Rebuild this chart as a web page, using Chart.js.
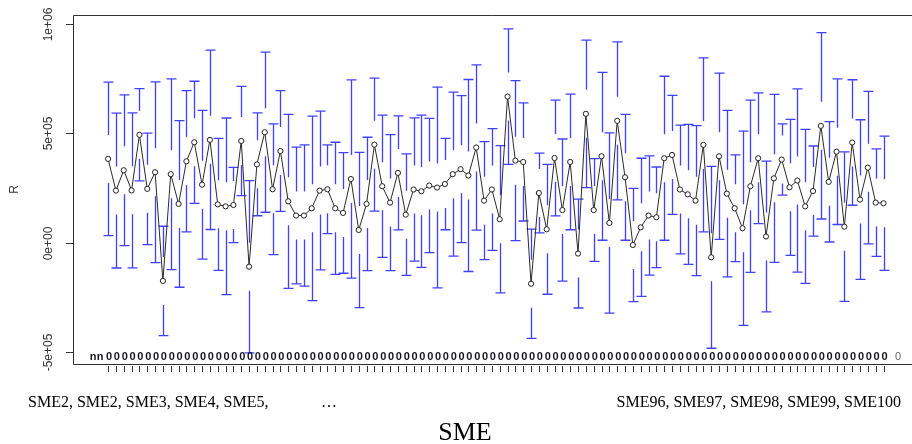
<!DOCTYPE html>
<html>
<head>
<meta charset="utf-8">
<script src="https://cdn.jsdelivr.net/npm/chart.js@4"></script>
<style>
  html, body { margin: 0; padding: 0; background: #fff; overflow: hidden; }
  #wrap { width: 912px; height: 444px; }
</style>
</head>
<body>
<div id="wrap"><canvas id="smeChart" width="912" height="444"></canvas></div>
<script>
// SME index 1..100, mean R and half width of the interval
const smeIndex = Array.from({ length: 100 }, (_, i) => i + 1);

const meanR = [383000, 238000, 331000, 239000, 493000, 246000, 322000, -175000, 313000, 177000,
    372000, 459000, 265000, 470000, 175000, 166000, 172000, 465000, -110000, 358000,
    505000, 244000, 419000, 189000, 124000, 124000, 157000, 238000, 244000, 157000,
    136000, 291000, 58000, 177000, 448000, 258000, 183000, 319000, 128000, 243000,
    235000, 261000, 252000, 268000, 313000, 336000, 307000, 435000, 192000, 243000,
    107000, 668000, 375000, 369000, -188000, 227000, 61000, 387000, 149000, 369000,
    -50000, 589000, 149000, 395000, 90000, 557000, 299000, -11000, 70000, 124000,
    116000, 386000, 401000, 243000, 221000, 192000, 447000, -67000, 395000, 224000,
    157000, 66000, 258000, 386000, 28000, 294000, 380000, 253000, 284000, 166000,
    236000, 534000, 278000, 416000, 73000, 458000, 197000, 343000, 183000, 180000];

const errR = [351000, 354000, 345000, 354000, 211000, 255000, 413000, 250000, 436000, 381000,
    323000, 279000, 340000, 410000, 302000, 404000, 172000, 250000, 394000, 235000,
    366000, 299000, 276000, 398000, 313000, 323000, 422000, 363000, 203000, 302000,
    276000, 453000, 355000, 305000, 304000, 325000, 311000, 261000, 278000, 328000,
    348000, 307000, 459000, 209000, 375000, 336000, 439000, 378000, 270000, 278000,
    337000, 310000, 366000, 270000, 250000, 182000, 297000, 265000, 325000, 310000,
    249000, 337000, 235000, 384000, 412000, 361000, 288000, 259000, 316000, 273000,
    230000, 375000, 272000, 294000, 320000, 343000, 398000, 416000, 380000, 381000,
    244000, 444000, 394000, 299000, 345000, 384000, 163000, 311000, 419000, 352000,
    206000, 426000, 275000, 333000, 342000, 287000, 365000, 349000, 246000, 307000];

const yTicks = [-500000, 0, 500000, 1000000];
const yTickLabels = ['-5e+05', '0e+00', '5e+05', '1e+06'];

const leftNote = 'SME2, SME2, SME3, SME4, SME5,';
const rightNote = 'SME96, SME97, SME98, SME99, SME100';

const SANS = '"Liberation Sans", Arial, sans-serif';
const SERIF = '"Liberation Serif", "Times New Roman", serif';

// gplots-like error bars, with a gap round each point
const errorBars = {
    id: 'errorBars',
    beforeDatasetsDraw(chart) {
        const { ctx, scales: { x, y } } = chart;
        const gap = 24, cap = 5;
        ctx.save();
        ctx.strokeStyle = 'rgba(30,30,255,0.85)';
        ctx.lineWidth = 1.3;
        smeIndex.forEach((v, i) => {
            const px = Math.round(x.getPixelForValue(v)) + 0.5;
            const pm = y.getPixelForValue(meanR[i]);
            const pu = y.getPixelForValue(meanR[i] + errR[i]);
            const pl = y.getPixelForValue(meanR[i] - errR[i]);
            ctx.beginPath();
            if (pm - gap > pu) { ctx.moveTo(px, pm - gap); ctx.lineTo(px, pu); }
            if (pm + gap < pl) { ctx.moveTo(px, pm + gap); ctx.lineTo(px, pl); }
            ctx.moveTo(px - cap, pu); ctx.lineTo(px + cap, pu);
            ctx.moveTo(px - cap, pl); ctx.lineTo(px + cap, pl);
            ctx.stroke();
        });
        ctx.restore();
    }
};

// R style frame, ticks and texts
const rAxes = {
    id: 'rAxes',
    afterDraw(chart) {
        const { ctx, chartArea: a, scales: { x, y } } = chart;
        ctx.save();
        ctx.strokeStyle = '#333';
        ctx.lineWidth = 1;
        ctx.beginPath();
        ctx.moveTo(a.left + 0.5, a.bottom + 0.5);
        ctx.lineTo(a.left + 0.5, a.top + 0.5);
        ctx.lineTo(912, a.top + 0.5);
        ctx.moveTo(a.left + 0.5, a.bottom + 0.5);
        ctx.lineTo(912, a.bottom + 0.5);
        ctx.stroke();

        // y ticks
        ctx.fillStyle = '#333';
        ctx.font = '12px ' + SANS;
        ctx.textAlign = 'center';
        ctx.textBaseline = 'middle';
        yTicks.forEach((t, i) => {
            const py = Math.round(y.getPixelForValue(t)) + 0.5;
            ctx.beginPath();
            ctx.moveTo(a.left - 7, py);
            ctx.lineTo(a.left, py);
            ctx.stroke();
            ctx.save();
            ctx.translate(49, py);
            ctx.rotate(-Math.PI / 2);
            ctx.fillText(yTickLabels[i], 0, 0);
            ctx.restore();
        });
        ctx.save();
        ctx.translate(15, (a.top + a.bottom) / 2);
        ctx.rotate(-Math.PI / 2);
        ctx.fillText('R', 0, 0);
        ctx.restore();

        // x ticks
        ctx.beginPath();
        smeIndex.forEach(v => {
            const px = Math.round(x.getPixelForValue(v)) + 0.5;
            ctx.moveTo(px, a.bottom + 2);
            ctx.lineTo(px, a.bottom + 8);
        });
        ctx.stroke();

        // crowded labels along the bottom of the box
        ctx.fillStyle = '#15151f';
        ctx.font = 'bold 11px ' + SANS;
        ctx.fillText('n', 93, 357);
        ctx.fillText('n', 100, 357);
        smeIndex.forEach(v => {
            ctx.fillText('0', x.getPixelForValue(v) + 1, 357);
        });
        ctx.fillStyle = '#666';
        ctx.font = '11px ' + SANS;
        ctx.fillText('0', 898, 357);

        // notes under the axis
        ctx.fillStyle = '#000';
        ctx.font = '16px ' + SERIF;
        ctx.textBaseline = 'alphabetic';
        ctx.textAlign = 'left';
        ctx.fillText(leftNote, 28, 407);
        ctx.fillText('\u2026', 321, 407);
        ctx.textAlign = 'right';
        ctx.fillText(rightNote, 901, 407);
        ctx.textAlign = 'center';
        ctx.font = '26px ' + SERIF;
        ctx.fillText('SME', 465, 440);
        ctx.restore();
    }
};

const ctx = document.getElementById('smeChart').getContext('2d');
const smeChart = new Chart(ctx, {
    type: 'line',
    data: {
        datasets: [{
            label: 'R',
            data: smeIndex.map((v, i) => ({ x: v, y: meanR[i] })),
            borderColor: '#2a2a2a',
            borderWidth: 1,
            pointRadius: 2.6,
            pointBorderWidth: 1,
            pointBorderColor: '#222',
            pointBackgroundColor: '#fff',
            fill: false,
            tension: 0
        }]
    },
    options: {
        responsive: false,
        animation: false,
        events: [],
        layout: { padding: { left: 73, top: 15, right: 0, bottom: 80 } },
        plugins: { legend: { display: false }, tooltip: { enabled: false } },
        scales: {
            x: { type: 'linear', display: false, min: -3.48, max: 103.0 },
            y: { type: 'linear', display: false, min: -555000, max: 1041000 }
        }
    },
    plugins: [errorBars, rAxes]
});
</script>
</body>
</html>
